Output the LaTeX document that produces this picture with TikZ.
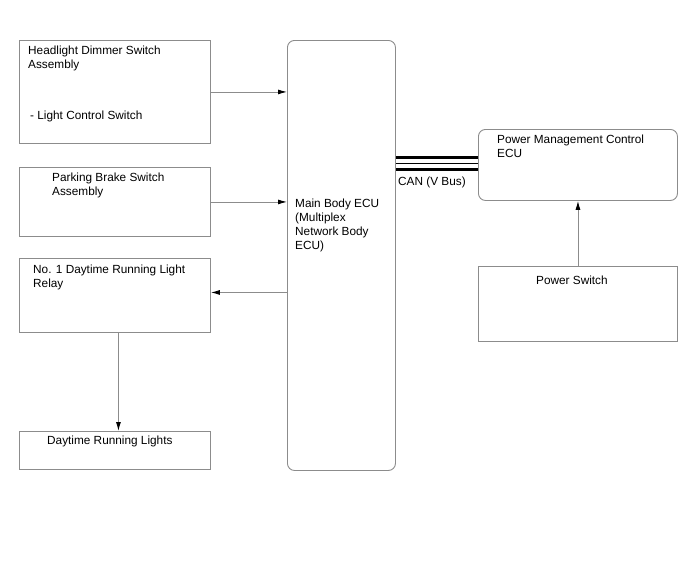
\documentclass[tikz,border=0pt]{standalone}
\usepackage{fontspec}
\setmainfont{Liberation Sans}
\usetikzlibrary{arrows.meta,positioning}

\begin{document}
\begin{tikzpicture}[x=1pt,y=-1pt,
    box/.style={draw=black!45, line width=0.9pt, inner sep=0pt, anchor=north west},
    ecu/.style={box, rounded corners=7pt},
    txt/.style={anchor=north west, inner sep=0pt, align=left, font=\fontsize{11.8}{14}\selectfont},
    link/.style={draw=black!45, line width=0.9pt, -{Latex[black,length=9pt,width=5pt]}},
    bus/.style={draw=black, line width=3pt},
    busthin/.style={draw=black, line width=1.2pt}]

\useasboundingbox (0,0) rectangle (688,560);

% boxes on the left
\node[box, minimum width=191pt, minimum height=103pt] (hds) at (19,40) {};
\node[box, minimum width=191pt, minimum height=69pt] (pbs) at (19,167) {};
\node[box, minimum width=191pt, minimum height=74pt] (drl) at (19,258) {};
\node[box, minimum width=191pt, minimum height=38pt] (dtl) at (19,431) {};

% ECUs and power switch
\node[ecu, minimum width=108pt, minimum height=430pt] (mbe) at (287,40) {};
\node[ecu, minimum width=199pt, minimum height=71pt] (pmc) at (478,129) {};
\node[box, minimum width=199pt, minimum height=75pt] (psw) at (478,266) {};

% texts
\node[txt] (hdsname) at (28,46) {Headlight Dimmer Switch\\Assembly};
\node[txt] (hdssub) at (30,111) {- Light Control Switch};
\node[txt] (pbsname) at (52,173) {Parking Brake Switch\\Assembly};
\node[txt] (drlname) at (33,265) {No. 1 Daytime Running Light\\Relay};
\node[txt] (dtlname) at (47,436) {Daytime Running Lights};
\node[txt] (mbename) at (295,199) {Main Body ECU\\(Multiplex\\Network Body\\ECU)};
\node[txt] (pmcname) at (497,135) {Power Management Control\\ECU};
\node[txt] (pswname) at (536,276) {Power Switch};
\node[txt] (canname) at (398,177) {CAN (V Bus)};

% signal lines
\draw[link] (hds.east) -- (hds.east -| mbe.west);
\draw[link] (pbs.east) -- (pbs.east -| mbe.west);
\draw[link] ([yshift=3pt]mbe.west |- drl.east) -- ([yshift=3pt]drl.east);
\draw[link] ([xshift=3.5pt]drl.south) -- ([xshift=3.5pt]drl.south |- dtl.north);
\draw[link] (psw.north) -- (pmc.south);

% CAN bus
\draw[bus] ([yshift=7pt]pmc.west -| mbe.east) -- ([yshift=7pt]pmc.west);
\draw[busthin] ([yshift=1.5pt]pmc.west -| mbe.east) -- ([yshift=1.5pt]pmc.west);
\draw[bus] ([yshift=-4.5pt]pmc.west -| mbe.east) -- ([yshift=-4.5pt]pmc.west);

\end{tikzpicture}
\end{document}
